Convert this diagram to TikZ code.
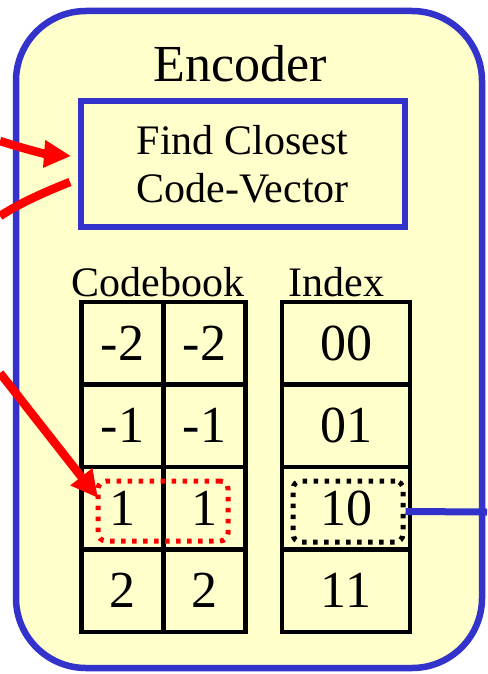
\documentclass[tikz,border=0pt]{standalone}
\usepackage{fontspec}
\setmainfont{Liberation Serif}
\usetikzlibrary{arrows.meta}
\definecolor{bxblue}{HTML}{3333CC}
\definecolor{bxyellow}{HTML}{FFFFCC}
\begin{document}
\begin{tikzpicture}[x=1pt,y=-1pt,
  cell/.style={draw=black,line width=4.5pt,minimum width=82pt,minimum height=82.5pt,inner sep=0pt,font=\fontsize{52}{60}\selectfont},
  idxcell/.style={cell,minimum width=128pt},
  lbl/.style={anchor=base,inner sep=0pt,font=\fontsize{42}{48}\selectfont},
  redarrow/.style={draw=red,line width=8.5pt,-{Triangle[length=27pt,width=26pt]}},
  redline/.style={draw=red,line width=8.5pt},
  dotbox/.style={line width=5pt,dash pattern=on 4.5pt off 6.5pt,rounded corners=8pt,inner sep=0pt}]
\useasboundingbox (0,0) rectangle (487,674);
% outer encoder box
\node (enc) [draw=bxblue,fill=bxyellow,line width=6.5pt,rounded corners=70pt,minimum width=466pt,minimum height=657pt,inner sep=0pt] at (249,339.5) {};
\node (title) [anchor=base,inner sep=0pt,font=\fontsize{52}{60}\selectfont] at (240.5,82) {Encoder};
% find closest box
\node (find) [draw=bxblue,line width=6pt,minimum width=324pt,minimum height=126pt,align=center,font=\fontsize{42}{48}\selectfont] at (242.5,164) {Find Closest\\Code-Vector};
% labels
\node (cblbl) [lbl] at (158,296) {Codebook};
\node (ixlbl) [lbl] at (336.5,296) {Index};
% codebook cells
\node (a1) [cell] at (122.5,343.25) {-2};
\node (b1) [cell] at (204.5,343.25) {-2};
\node (a2) [cell] at (122.5,425.75) {-1};
\node (b2) [cell] at (204.5,425.75) {-1};
\node (a3) [cell] at (122.5,508.25) {1};
\node (b3) [cell] at (204.5,508.25) {1};
\node (a4) [cell] at (122.5,590.75) {2};
\node (b4) [cell] at (204.5,590.75) {2};
% index cells
\node (i1) [idxcell] at (346,343.25) {00};
\node (i2) [idxcell] at (346,425.75) {01};
\node (i3) [idxcell] at (346,508.25) {10};
\node (i4) [idxcell] at (346,590.75) {11};
% dotted selections
\node (csel) [dotbox,draw=red,minimum width=130pt,minimum height=60pt] at (163,511) {};
\node (isel) [dotbox,draw=black,minimum width=110pt,minimum height=61pt] at (348,511.5) {};
% output line
\coordinate (out) at (487,512);
\draw[bxblue,line width=7pt] (isel.east) -- (out);
% red arrows
\coordinate (s1) at (0,141);
\coordinate (t1) at (71,156);
\coordinate (s2) at (70,182);
\coordinate (t2) at (0,216);
\coordinate (s3) at (0,373);
\coordinate (t3) at (98,498);
\draw[redarrow] (s1) .. controls (25,149) and (45,154) .. (t1);
\draw[redline] (s2) .. controls (45,192) and (22,202) .. (t2);
\draw[redarrow] (s3) -- (t3);
\end{tikzpicture}
\end{document}
